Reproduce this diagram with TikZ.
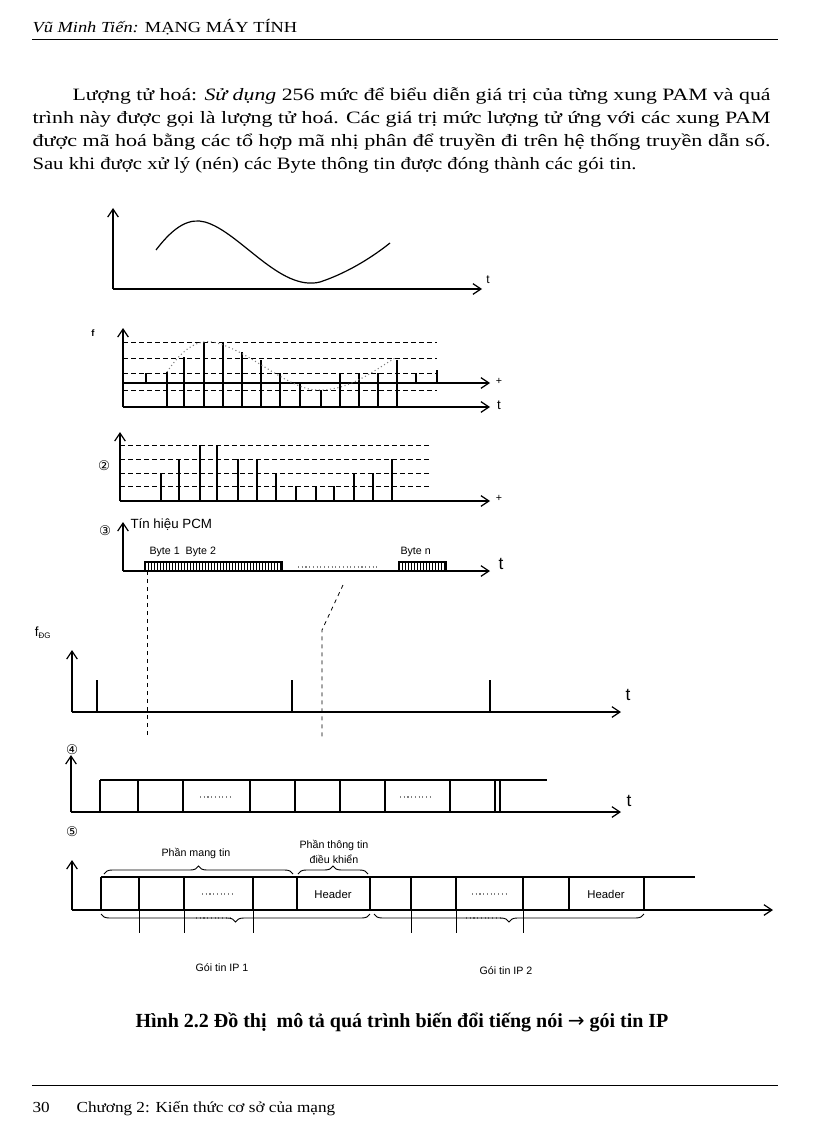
\documentclass[tikz,border=0pt]{standalone}
\usepackage{fontspec}
\setmainfont{Liberation Serif}
\newfontfamily\arialf{Liberation Sans}
\newfontfamily\djf{DejaVu Sans}
\usetikzlibrary{arrows.meta,decorations.pathreplacing}
\begin{document}
\begin{tikzpicture}[x=0.75pt,y=-0.75pt,line width=0.8pt,
  ax/.style={-{Straight Barb[length=6pt,width=8pt]},line width=0.9pt},
  dl/.style={dashed,dash pattern=on 4pt off 2pt,line width=0.7pt},
  lab/.style={font=\arialf\fontsize{8}{9}\selectfont,inner sep=0pt},
  big/.style={font=\arialf\fontsize{13}{14}\selectfont,inner sep=0pt},
  circ/.style={font=\djf\fontsize{10}{11}\selectfont,inner sep=0pt},
  body/.style={font=\fontsize{13}{15}\selectfont,inner sep=0pt,anchor=base west},
  brc/.style={decorate,decoration={brace,amplitude=6pt},line width=0.7pt},
  thick2/.style={line width=2pt}]
\useasboundingbox (0,0) rectangle (816,1123);
\fill[white] (0,0) rectangle (816,1123);
% header
\node[body,font=\fontsize{11.5}{12}\selectfont] (hd) at (32,33) {\scalebox{1.2}[1]{\textit{Vũ Minh Tiến:} MẠNG MÁY TÍNH}};
\draw[line width=0.6pt] (32,39) -- (778,39);
% paragraph
\node[body] (p1) at (72,101) {\resizebox{523.5pt}{\height}{Lượng tử hoá: \textit{Sử dụng} 256 mức để biểu diễn giá trị của từng xung PAM và quá}};
\node[body] (p2) at (32,124) {\resizebox{553.5pt}{\height}{trình này được gọi là lượng tử hoá. Các giá trị mức lượng tử ứng với các xung PAM}};
\node[body] (p3) at (32,147) {\resizebox{553.5pt}{\height}{được mã hoá bằng các tổ hợp mã nhị phân để truyền đi trên hệ thống truyền dẫn số.}};
\node[body] (p4) at (32,170) {\resizebox{453pt}{\height}{Sau khi được xử lý (nén) các Byte thông tin được đóng thành các gói tin.}};
% panel 1
\coordinate (o1) at (113,289);
\coordinate (y1) at (113,208);
\coordinate (x1) at (482,289);
\draw[ax] (o1) -- (y1);
\draw[ax] (o1) -- (x1);
\node[lab,font=\arialf\fontsize{9}{10}\selectfont] (t1) at (488,280) {t};
\draw[line width=0.9pt] (156,250) .. controls (175,225) and (190,218) .. (205,222)
  .. controls (240,232) and (280,292) .. (320,282) .. controls (350,272) and (375,255) .. (390,243);
% panel 2
\coordinate (o2) at (123,407);
\draw[ax] (o2) -- (123,328);
\draw[ax] (o2) -- (490,407);
\draw[ax] (123,383) -- (490,383);
\node[lab] (t2a) at (499,381) {+};
\node[lab,font=\arialf\fontsize{10}{11}\selectfont] (t2b) at (499,405) {t};
\node[lab,font=\arialf\fontsize{7}{8}\selectfont\bfseries] (f2) at (93,333) {f};
\foreach \yy in {342,358,373,390} \draw[dl] (123,\yy) -- (437,\yy);
\foreach \xx/\tp/\bt in {146/373/383,167/372/407,184/357/407,204/343/407,223/342/407,242/352/407,261/360/407,280/373/407,300/383/407,321/390/407,340/373/407,359/373/407,378/373/407,397/360/407,416/373/383,437/370/383}
  \draw[line width=0.8pt] (\xx,\tp) -- (\xx,\bt);
\draw[gray,dotted,line width=0.8pt] (167,372) .. controls (185,345) and (200,340) .. (213,342)
  .. controls (250,350) and (290,392) .. (320,390) .. controls (350,390) and (375,370) .. (395,358);
% panel 3
\coordinate (o3) at (120,501);
\draw[ax] (o3) -- (120,432);
\draw[ax] (o3) -- (490,501);
\node[lab] (t3) at (499,498) {+};
\node[circ] (c2) at (104,466) {②};
\foreach \yy in {445,459,473,486} \draw[dl] (120,\yy) -- (430,\yy);
\foreach \xx/\tp in {161/473,179/459,200/445,217/445,238/459,257/459,276/473,296/486,316/486,334/486,354/473,373/473,392/459}
  \draw[line width=0.8pt] (\xx,\tp) -- (\xx,501);
% panel 4 (PCM)
\node[circ] (c3) at (105,531) {③};
\coordinate (o4) at (123,571);
\draw[ax] (o4) -- (123,522);
\draw[ax] (o4) -- (490,571);
\node[big] (t4) at (501,564) {t};
\node[lab,font=\arialf\fontsize{10}{11}\selectfont,anchor=west] (pcm) at (130,525) {Tín hiệu PCM};
\node[lab,anchor=west] (b12) at (149,552) {Byte 1\ \ Byte 2};
\node[lab,anchor=west] (bn) at (400,552) {Byte n};
\draw[line width=1pt] (145,562) rectangle (282,571);
\draw[line width=1pt] (399,562) rectangle (446,571);
\foreach \xx in {148,151,...,280} \draw[line width=0.6pt] (\xx,562) -- (\xx,571);
\foreach \xx in {402,405,...,444} \draw[line width=0.6pt] (\xx,562) -- (\xx,571);
\draw[dotted,gray] (298,567) -- (378,567);
\draw[dashed,line width=0.6pt] (147,571) -- (147,737);
\draw[dashed,line width=0.6pt] (343,585) -- (322,630) -- (322,737);
% panel 5 (fDG)
\node[lab,font=\arialf\fontsize{10}{11}\selectfont] (fdg) at (43,633) {f\textsubscript{\fontsize{6}{7}\selectfont ĐG}};
\coordinate (o5) at (72,712);
\draw[ax] (o5) -- (72,650);
\draw[ax] (o5) -- (621,712);
\node[big] (t5) at (628,695) {t};
\foreach \xx in {97,292,490} \draw (\xx,680) -- (\xx,712);
% panel 6 (4)
\node[circ] (c4) at (72,750) {④};
\coordinate (o6) at (71,812);
\draw[ax] (o6) -- (71,755);
\draw[ax] (o6) -- (621,812);
\node[big] (t6) at (629,801) {t};
\draw[line width=1.4pt] (100,780) -- (547,780);
\draw[line width=1.4pt] (100,812) -- (500,812);
\foreach \xx in {100,138,183,250,340,385,450} \draw[line width=0.9pt] (\xx,780) -- (\xx,812);
\draw[thick2] (295,780) -- (295,812);
\draw[thick2] (495,780) -- (495,812);
\draw[line width=0.9pt] (500,780) -- (500,812);
\draw[dotted,gray] (200,797) -- (232,797);
\draw[dotted,gray] (400,797) -- (433,797);
% panel 7 (5)
\node[circ] (c5) at (72,832) {⑤};
\coordinate (o7) at (72,910);
\draw[ax] (o7) -- (72,860);
\draw[ax] (o7) -- (773,910);
\draw[line width=1.4pt] (101,877) -- (695,877);
\draw[line width=1.4pt] (101,910) -- (644,910);
\foreach \xx in {101,139,184,253,297,411,456,523,569} \draw[line width=0.9pt] (\xx,877) -- (\xx,910);
\draw[thick2] (370,877) -- (370,910);
\draw[thick2] (644,877) -- (644,910);
\node[lab,font=\arialf\fontsize{8.5}{9}\selectfont] (h1) at (333,894) {Header};
\node[lab,font=\arialf\fontsize{8.5}{9}\selectfont] (h2) at (606,894) {Header};
\draw[dotted,gray] (202,894) -- (235,894);
\draw[dotted,gray] (472,894) -- (506,894);
\draw[dotted,gray] (196,918) -- (230,918);
\draw[dotted,gray] (466,918) -- (500,918);
\node[lab] (pm) at (196,853) {Phần mang tin};
\node[lab,align=center] (pt) at (334,852) {Phần thông tin\\[2pt]điều khiển};
\draw[brc] (104,874) -- (293,874);
\draw[brc] (298,874) -- (368,874);
\draw[brc] (370,914) -- (101,914);
\draw[brc] (644,914) -- (374,914);
\foreach \xx in {139,184,253,411,456,523} \draw[line width=0.6pt] (\xx,910) -- (\xx,933);
\node[lab] (g1) at (222,968) {Gói tin IP 1};
\node[lab] (g2) at (506,971) {Gói tin IP 2};
% caption
\node[inner sep=0pt,font=\fontsize{15}{17}\selectfont\bfseries] (cap) at (402,1022) {Hình 2.2 Đồ thị\ \ mô tả quá trình biến đổi tiếng nói {\djf\mdseries →} gói tin IP};
% footer
\draw[line width=0.6pt] (32,1085) -- (778,1085);
\node[body,font=\fontsize{11.5}{12}\selectfont] (ft) at (32,1112) {\scalebox{1.12}[1]{30\hspace{18pt}Chương 2: Kiến thức cơ sở của mạng}};
\end{tikzpicture}
\end{document}
